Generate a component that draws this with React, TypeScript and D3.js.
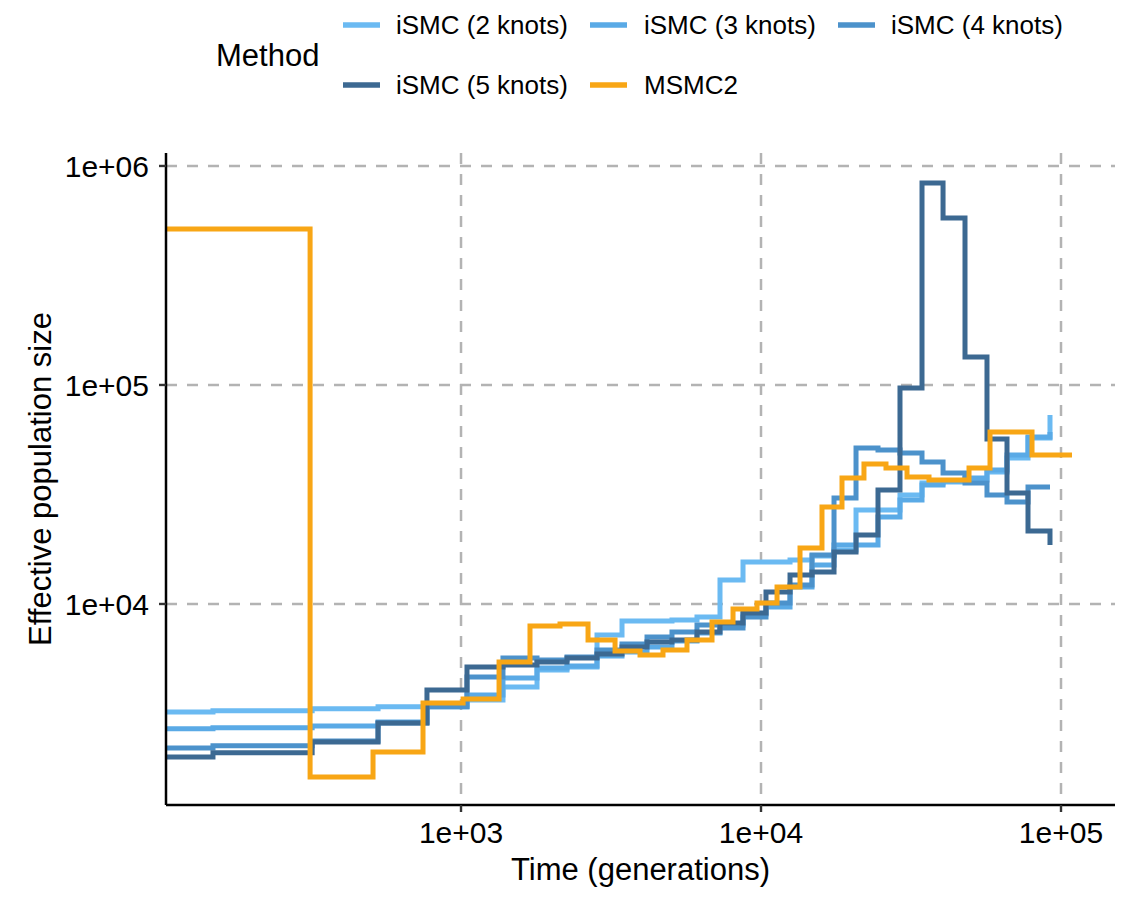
import React from "react";
import * as d3 from "d3";

// ---- data ----
const ISMC_TIME = [104, 149, 319, 529, 770, 1047, 1380, 1792, 2256, 2840, 3441, 4169, 5050, 6118, 7300, 8710, 10390, 12495, 14791, 17514, 20736, 24547, 29060, 34409, 40440, 47863, 56660, 66069, 77625, 91900];
const ISMC2_NE = [3210, 3250, 3320, 3390, 3460, 3640, 4180, 4990, 5160, 7220, 8360, 8360, 8450, 8720, 12870, 15550, 15550, 15880, 16570, 17650, 26870, 26870, 31460, 35680, 36060, 36830, 40070, 46420, 57280, 72950];
const ISMC3_NE = [2690, 2720, 2770, 2890, 3390, 3840, 4590, 5100, 5210, 5790, 6040, 6360, 6780, 7370, 8020, 9000, 9690, 11960, 15070, 18600, 18600, 24960, 29850, 34940, 36440, 37610, 40920, 47910, 57880, 61020];
const ISMC4_NE = [2200, 2250, 2370, 2860, 3390, 4640, 5670, 5550, 5730, 6170, 6570, 7070, 7450, 8020, 7770, 8720, 10110, 12210, 16740, 30480, 51560, 50490, 48920, 44500, 39650, 35680, 31460, 29230, 34210, 34210];
const ISMC5_NE = [2000, 2090, 2340, 2860, 4050, 5150, 5270, 5430, 5670, 5910, 6360, 6710, 6850, 7450, 8190, 9100, 11350, 13570, 14000, 17280, 20660, 33150, 96900, 836000, 579000, 134300, 56700, 32100, 21540, 18600];
const MSMC_TIME = [104, 314, 509, 747, 1016, 1339, 1698, 2138, 2651, 3262, 3951, 4713, 5666, 6866, 8067, 9698, 11309, 13490, 15970, 18620, 22040, 26100, 30670, 36310, 49360, 57990, 80060, 108800];
const MSMC_NE = [515600, 1622, 2110, 3530, 3680, 5430, 7930, 8100, 6850, 6100, 5850, 6170, 6850, 8280, 9490, 10110, 11960, 18020, 27730, 37610, 43590, 41780, 38010, 36830, 41780, 61020, 47910, 47910];

const METHODS = ["iSMC (2 knots)", "iSMC (3 knots)", "iSMC (4 knots)", "iSMC (5 knots)", "MSMC2"];
const COLORS = ["#6BBAF2", "#5AAAE6", "#4C92CB", "#3C6992", "#F8A615"];
const X_TICKS = [1e3, 1e4, 1e5];
const Y_TICKS = [1e4, 1e5, 1e6];
const X_TICK_LABELS = ["1e+03", "1e+04", "1e+05"];
const Y_TICK_LABELS = ["1e+04", "1e+05", "1e+06"];

const W = 1136;
const H = 899;
const FONT = "'Liberation Sans', Arial, Helvetica, sans-serif";

export default function App() {
  const left = 166, right = 1115, top = 153, bottom = 805;
  const x = d3.scaleLog().domain([103.9, 151356]).range([left, right]);
  const y = d3.scaleLog().domain([1208, 1146000]).range([bottom, top]);

  const seriesList = [
    { t: ISMC_TIME, v: ISMC2_NE },
    { t: ISMC_TIME, v: ISMC3_NE },
    { t: ISMC_TIME, v: ISMC4_NE },
    { t: ISMC_TIME, v: ISMC5_NE },
    { t: MSMC_TIME, v: MSMC_NE },
  ];

  const line = d3
    .line<[number, number]>()
    .x((d) => x(d[0]))
    .y((d) => y(d[1]))
    .curve(d3.curveStepAfter);

  const legendItems = [
    { col: 0, row: 0 },
    { col: 1, row: 0 },
    { col: 2, row: 0 },
    { col: 0, row: 1 },
    { col: 1, row: 1 },
  ];
  const keyX = [343, 590, 838];
  const labelX = [396, 644, 891];
  const rowY = [25, 85];

  return (
    <svg
      width={W}
      height={H}
      style={{ position: "absolute", left: 0, top: 0, background: "#fff" }}
      fontFamily={FONT}
    >
      <rect x={0} y={0} width={W} height={H} fill="#fff" />
      {/* grid */}
      <g stroke="#b3b3b3" strokeWidth={2.5} strokeDasharray="11,10">
        {Y_TICKS.map((v) => (
          <line key={"gy" + v} x1={left} x2={right} y1={y(v)} y2={y(v)} />
        ))}
        {X_TICKS.map((v) => (
          <line key={"gx" + v} x1={x(v)} x2={x(v)} y1={top} y2={bottom} />
        ))}
      </g>
      {/* data */}
      <g fill="none" strokeWidth={5} strokeLinejoin="miter" strokeLinecap="butt">
        {seriesList.map((s, i) => (
          <path
            key={i}
            d={line(s.t.map((t, j) => [t, s.v[j]] as [number, number])) || ""}
            stroke={COLORS[i]}
          />
        ))}
      </g>
      {/* axes */}
      <line x1={left} x2={right} y1={bottom} y2={bottom} stroke="#000" strokeWidth={2.5} />
      <line x1={left} x2={left} y1={top} y2={bottom} stroke="#000" strokeWidth={2.5} />
      {X_TICKS.map((v, i) => (
        <g key={"xt" + v}>
          <line x1={x(v)} x2={x(v)} y1={bottom} y2={bottom + 7} stroke="#333" strokeWidth={2.4} />
          <text x={x(v)} y={843} textAnchor="middle" fontSize={30} fill="#000">
            {X_TICK_LABELS[i]}
          </text>
        </g>
      ))}
      {Y_TICKS.map((v, i) => (
        <g key={"yt" + v}>
          <line x1={left - 7} x2={left} y1={y(v)} y2={y(v)} stroke="#333" strokeWidth={2.4} />
          <text x={149} y={y(v)} dy="0.36em" textAnchor="end" fontSize={30} fill="#000">
            {Y_TICK_LABELS[i]}
          </text>
        </g>
      ))}
      <text x={(left + right) / 2} y={880} textAnchor="middle" fontSize={31} fill="#000">
        Time (generations)
      </text>
      <text
        transform={`translate(51,${(top + bottom) / 2}) rotate(-90)`}
        textAnchor="middle"
        fontSize={31}
        fill="#000"
      >
        Effective population size
      </text>
      {/* legend */}
      <text x={216} y={55} dy="0.36em" fontSize={31} fill="#000">
        Method
      </text>
      {legendItems.map((it, i) => (
        <g key={"lg" + i}>
          <line
            x1={keyX[it.col]}
            x2={keyX[it.col] + 37}
            y1={rowY[it.row]}
            y2={rowY[it.row]}
            stroke={COLORS[i]}
            strokeWidth={5.5}
          />
          <text x={labelX[it.col]} y={rowY[it.row]} dy="0.36em" fontSize={26} fill="#000">
            {METHODS[i]}
          </text>
        </g>
      ))}
    </svg>
  );
}
